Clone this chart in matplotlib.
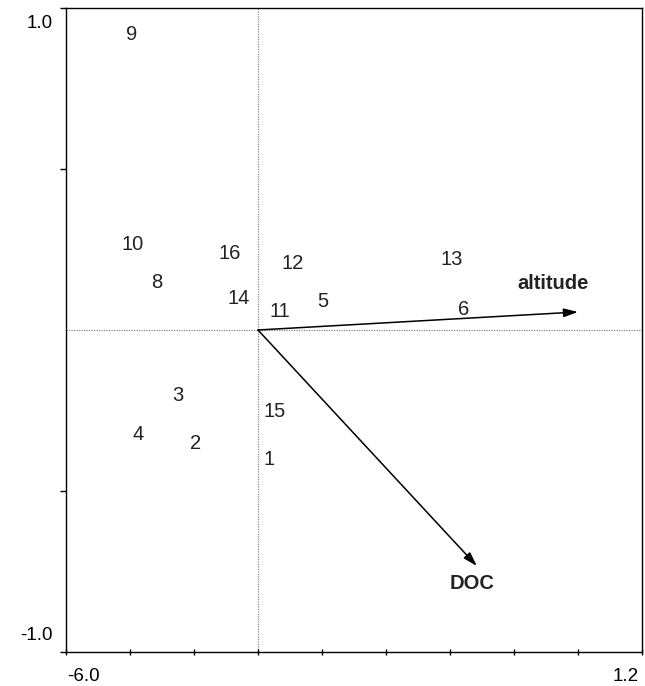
import numpy as np
import matplotlib
matplotlib.use('Agg')
import matplotlib.pyplot as plt
from matplotlib.patches import FancyArrowPatch
import matplotlib.transforms as mtransforms

plt.rcParams['font.family'] = ['Liberation Sans', 'DejaVu Sans']

# site scores (labels drawn as numbers)
site_labels = ['1', '2', '3', '4', '5', '6', '8', '9', '10', '11', '12', '13', '14', '15', '16']
site_x = [0.034, -0.194, -0.250, -0.375, 0.203, 0.644, -0.316, -0.394, -0.391, 0.069, 0.109, 0.606, -0.059, 0.053, -0.0875]
site_y = [-0.401, -0.351, -0.202, -0.326, 0.090, 0.065, 0.149, 0.919, 0.264, 0.056, 0.208, 0.220, 0.099, -0.252, 0.239]

# environmental variables (arrow tips and label positions)
env_names = ['altitude', 'DOC']
env_x = [1.000, 0.684]
env_y = [0.056, -0.733]
env_lab_x = [0.922, 0.669]
env_lab_y = [0.143, -0.786]

x_ticks = [-0.6, -0.4, -0.2, 0.0, 0.2, 0.4, 0.6, 0.8, 1.0, 1.2]
y_ticks = [-1.0, -0.5, 0.5, 1.0]
x_end_labels = ['-6.0', '1.2']
y_end_labels = ['-1.0', '1.0']

fig = plt.figure(figsize=(6.45, 6.86), dpi=100)
ax = fig.add_axes([66 / 645, 34 / 686, 576 / 645, 644 / 686])
ax.set_xlim(-0.6, 1.2)
ax.set_ylim(-1.0, 1.0)

for s in ax.spines.values():
    s.set_linewidth(1.0)
    s.set_color('black')

ax.set_xticks(x_ticks)
ax.set_xticklabels([])
ax.set_yticks(y_ticks)
ax.set_yticklabels([])
ax.tick_params(axis='x', direction='inout', length=5, width=1, colors='black')
ax.tick_params(axis='y', direction='out', length=4, width=1, colors='black')

# axis end labels
dpi_trans = fig.dpi_scale_trans
ax.text(0, 0, x_end_labels[0], transform=ax.transAxes + mtransforms.ScaledTranslation(0.01, -0.16, dpi_trans),
        ha='left', va='top', fontsize=13.5)
ax.text(1, 0, x_end_labels[1], transform=ax.transAxes + mtransforms.ScaledTranslation(-0.03, -0.16, dpi_trans),
        ha='right', va='top', fontsize=13.5)
ax.text(0, 0, y_end_labels[0], transform=ax.transAxes + mtransforms.ScaledTranslation(-0.13, 0.17, dpi_trans),
        ha='right', va='center', fontsize=13.5)
ax.text(0, 1, y_end_labels[1], transform=ax.transAxes + mtransforms.ScaledTranslation(-0.13, -0.15, dpi_trans),
        ha='right', va='center', fontsize=13.5)

# dotted zero lines
ax.axhline(0, color='#8a8a8a', lw=0.9, ls=(0, (1, 1)), zorder=1)
ax.axvline(0, color='#8a8a8a', lw=0.9, ls=(0, (1, 1)), zorder=1)

for lab, x, y in zip(site_labels, site_x, site_y):
    ax.text(x, y, lab, ha='center', va='center', fontsize=14.5, color='#222222')

for name, x, y, lx, ly in zip(env_names, env_x, env_y, env_lab_x, env_lab_y):
    arr = FancyArrowPatch((0, 0), (x, y), arrowstyle='-|>,head_length=8.5,head_width=2.6',
                          mutation_scale=1, lw=1.1, color='black', shrinkA=0, shrinkB=0)
    ax.add_patch(arr)
    ax.text(lx, ly, name, ha='center', va='center', fontsize=14.5, fontweight='bold', color='#222222')

fig.savefig('out.png', dpi=100)
